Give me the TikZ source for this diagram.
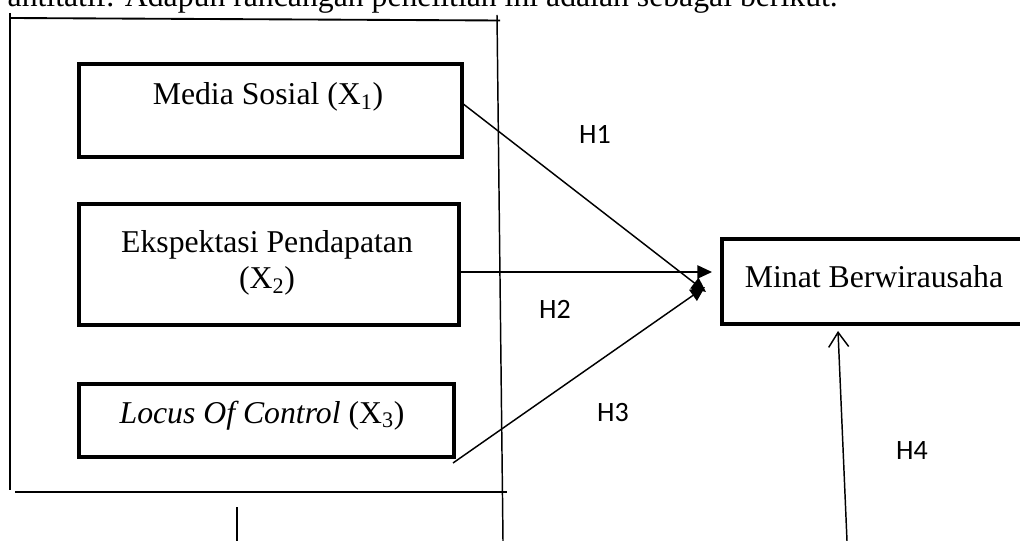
\documentclass[tikz,border=0pt]{standalone}
\usepackage{fontspec}
\setmainfont{Liberation Serif}
\newfontfamily\hfont{Carlito}
\usetikzlibrary{arrows.meta}
\tikzset{
  box/.style={draw, line width=3pt, rectangle, inner sep=0pt},
  lbl/.style={font=\fontsize{23.8}{27}\selectfont, inner sep=0pt},
  hlbl/.style={font=\hfont\fontsize{21}{24}\selectfont, inner sep=0pt},
  frame/.style={line width=1.4pt},
  conn/.style={line width=1.1pt},
  tri/.style={-{Triangle[length=11pt,width=10pt]}},
  barb/.style={-{Straight Barb[length=11pt,width=15pt,line width=1.1pt]}}
}
\begin{document}
\begin{tikzpicture}[x=0.75pt,y=-0.75pt]
\useasboundingbox (0,0) rectangle (1020,541);
\clip (0,0) rectangle (1020,541);
% top cut text
\node[lbl, anchor=base east] (toptext) at (838,7) {antitatif. Adapun rancangan penelitian ini adalah sebagai berikut.};
% frame lines
\coordinate (ftl) at (10,13);
\coordinate (fbl) at (10,490);
\coordinate (ht1) at (10,18);
\coordinate (ht2) at (500,20.5);
\coordinate (vr1) at (497,15);
\coordinate (vr2) at (503,541);
\coordinate (hb1) at (15,492);
\coordinate (hb2) at (507,492);
\coordinate (vs1) at (237,507);
\coordinate (vs2) at (237,541);
\draw[frame] (ftl) -- (fbl);
\draw[frame] (ht1) -- (ht2);
\draw[line width=1.1pt] (vr1) -- (vr2);
\draw[frame] (hb1) -- (hb2);
\draw[line width=1.1pt] (vs1) -- (vs2);
% boxes
\node[box, minimum width=383*0.75pt, minimum height=93*0.75pt, anchor=north west] (b1) at (77,62) {};
\node[lbl, anchor=base] (t1) at (268,105) {Media Sosial (X\textsubscript{1})};
\node[box, minimum width=380*0.75pt, minimum height=121*0.75pt, anchor=north west] (b2) at (77,202) {};
\node[lbl, anchor=base] (t2a) at (267,253) {Ekspektasi Pendapatan};
\node[lbl, anchor=base] (t2b) at (267,289) {(X\textsubscript{2})};
\node[box, minimum width=375*0.75pt, minimum height=73*0.75pt, anchor=north west] (b3) at (77,382) {};
\node[lbl, anchor=base] (t3) at (262,423) {\textit{Locus Of Control} (X\textsubscript{3})};
\node[box, minimum width=320*0.75pt, minimum height=85*0.75pt, anchor=north west] (y) at (720,237) {};
\node[lbl, anchor=base] (ty) at (874,288) {Minat Berwirausaha};
% connectors
\coordinate (s1) at (462,103);
\coordinate (s2) at (457,272);
\coordinate (s3) at (453,463);
\coordinate (e1) at (706,292);
\coordinate (e2) at (712,272);
\coordinate (e3) at (705,287);
\coordinate (s4) at (847,541);
\coordinate (e4) at (838,331);
\draw[conn, tri] (s1) -- (e1);
\draw[conn, tri] (s2) -- (e2);
\draw[conn, tri] (s3) -- (e3);
\draw[conn, barb] (s4) -- (e4);
% hypothesis labels
\node[hlbl] (h1) at (595,134) {H1};
\node[hlbl] (h2) at (555,309) {H2};
\node[hlbl] (h3) at (613,413) {H3};
\node[hlbl] (h4) at (912,451) {H4};
\end{tikzpicture}
\end{document}
